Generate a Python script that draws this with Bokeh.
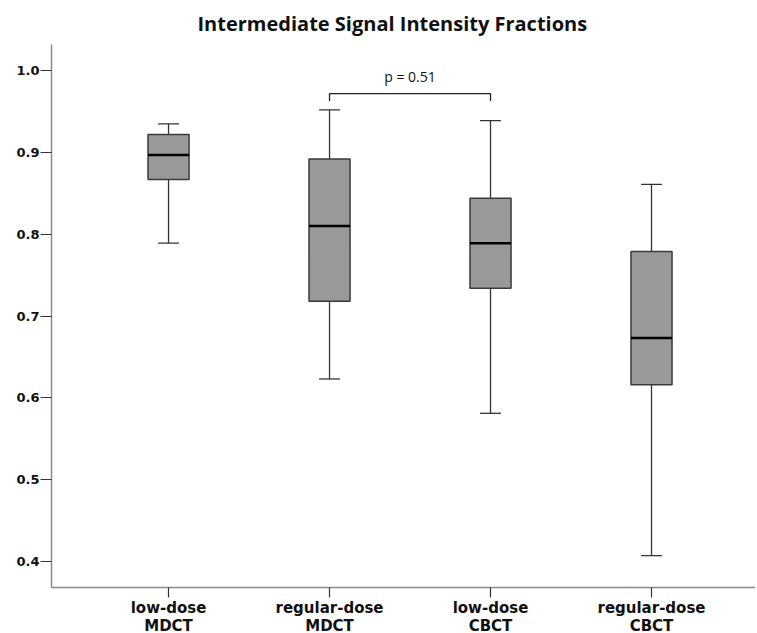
from bokeh.plotting import figure
from bokeh.models import Range1d, FixedTicker, Label
from bokeh.embed import file_html
from bokeh.resources import INLINE

categories = ["low-dose\nMDCT", "regular-dose\nMDCT", "low-dose\nCBCT", "regular-dose\nCBCT"]
positions = [1, 2, 3, 4]
whisker_low = [0.789, 0.623, 0.581, 0.407]
q1 = [0.867, 0.718, 0.734, 0.616]
median = [0.897, 0.810, 0.789, 0.673]
q3 = [0.922, 0.892, 0.844, 0.779]
whisker_high = [0.935, 0.952, 0.939, 0.861]
y_ticks = [0.4, 0.5, 0.6, 0.7, 0.8, 0.9, 1.0]
bracket_groups = [2, 3]
bracket_y = 0.972
bracket_tip = 0.963
p_text = "p = 0.51"

box_w = 0.255
cap_w = 0.13

p = figure(frame_width=704, frame_height=543, min_border_left=51, min_border_top=43,
           min_border_right=0, min_border_bottom=45,
           x_range=Range1d(0.273, 4.646), y_range=Range1d(0.368, 1.032),
           output_backend="svg", toolbar_location=None,
           title="Intermediate Signal Intensity Fractions")
p.title.align = "left"
p.title.text_font = "Open Sans"
p.title.text_font_style = "bold"
p.title.text_font_size = "20px"
p.title.text_color = "#111111"
p.title.offset = 146
p.title.standoff = 15

p.xgrid.visible = False
p.ygrid.visible = False
p.outline_line_color = None

for ax in (p.xaxis[0], p.yaxis[0]):
    ax.axis_line_color = "#8a8a8a"
    ax.axis_line_width = 1.5
    ax.major_tick_line_color = "#333333"
    ax.major_tick_line_width = 1.2
    ax.major_tick_in = 0
    ax.minor_tick_line_color = None
    ax.major_label_text_font_style = "bold"
    ax.major_label_text_color = "#111111"

p.yaxis.ticker = FixedTicker(ticks=y_ticks)
p.yaxis.major_tick_out = 11
p.yaxis.major_label_standoff = 1
p.yaxis.major_label_text_font = "DejaVu Sans"
p.yaxis.major_label_text_font_size = "13px"
p.yaxis.major_label_overrides = {t: f"{t:.1f}" for t in y_ticks}

p.xaxis.ticker = FixedTicker(ticks=positions)
p.xaxis.major_tick_out = 10
p.xaxis.major_label_standoff = 1
p.xaxis.major_label_text_font = "DejaVu Sans"
p.xaxis.major_label_text_font_size = "15px"
p.xaxis.major_label_text_line_height = 1.0
p.xaxis.major_label_overrides = {pos: lab for pos, lab in zip(positions, categories)}

# whiskers
p.segment(x0=positions, y0=q3, x1=positions, y1=whisker_high, line_color="#333333", line_width=1.3)
p.segment(x0=positions, y0=q1, x1=positions, y1=whisker_low, line_color="#333333", line_width=1.3)
# caps
p.segment(x0=[x - cap_w / 2 for x in positions], y0=whisker_high,
          x1=[x + cap_w / 2 for x in positions], y1=whisker_high, line_color="#333333", line_width=1.3)
p.segment(x0=[x - cap_w / 2 for x in positions], y0=whisker_low,
          x1=[x + cap_w / 2 for x in positions], y1=whisker_low, line_color="#333333", line_width=1.3)
# boxes
p.vbar(x=positions, width=box_w, bottom=q1, top=q3, fill_color="#999999",
       line_color="#3a3a3a", line_width=1.5)
# medians
p.segment(x0=[x - box_w / 2 for x in positions], y0=median,
          x1=[x + box_w / 2 for x in positions], y1=median, line_color="#000000", line_width=2.5)

# significance bracket
b0, b1 = bracket_groups
p.line(x=[b0, b0, b1, b1], y=[bracket_tip, bracket_y, bracket_y, bracket_tip],
       line_color="#222222", line_width=1.3)
p.add_layout(Label(x=(b0 + b1) / 2, y=bracket_y, text=p_text, text_align="center",
                   text_baseline="bottom", y_offset=8, text_font="Open Sans",
                   text_font_size="14px", text_color="#111111"))

open("out.html", "w").write(file_html(p, INLINE))
